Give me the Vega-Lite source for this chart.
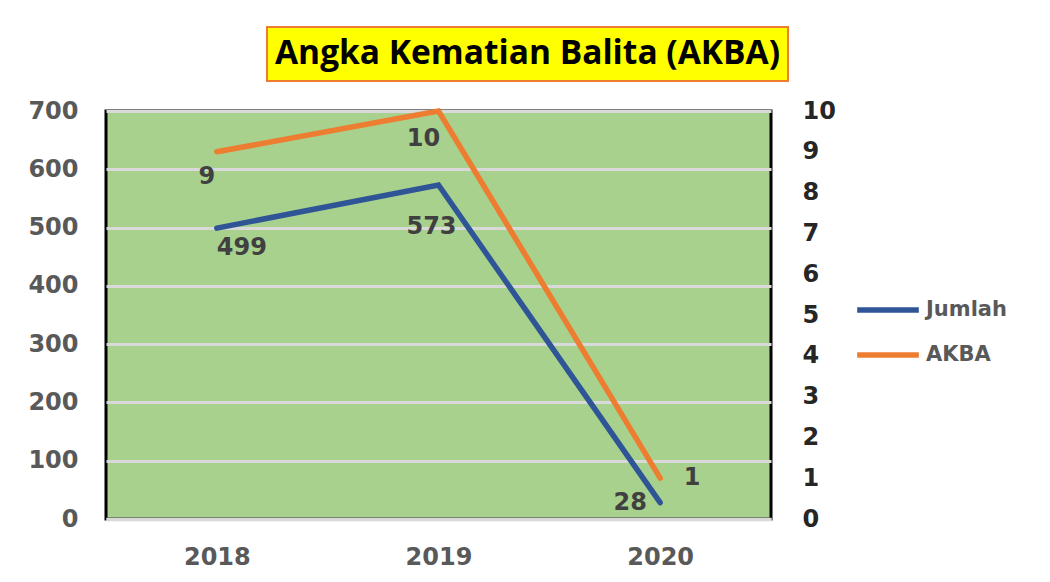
{
  "$schema": "https://vega.github.io/schema/vega-lite/v6.json",
  "background": "white",
  "padding": {"left": 26, "top": 26, "right": 5, "bottom": 5},
  "config": {"font": "DejaVu Sans"},
  "spacing": 15,
  "vconcat": [
    {
      "spacing": 0,
      "hconcat": [
        {
          "width": 160,
          "height": 54,
          "view": {"stroke": null, "fill": null},
          "data": {"values": [{"blank": ""}]},
          "mark": {"type": "text"},
          "encoding": {"text": {"field": "blank"}}
        },
        {
          "width": 521,
          "height": 54,
          "view": {"fill": "#ffff00", "stroke": "#ed7d31", "strokeWidth": 2},
          "data": {"values": [{"title": "Angka Kematian Balita (AKBA)"}]},
          "mark": {"type": "text", "font": "Open Sans", "fontWeight": "bold", "fontSize": 33.5, "color": "black", "align": "center", "baseline": "middle"},
          "encoding": {"text": {"field": "title"}}
        }
      ]
    },
    {
      "width": 665,
      "height": 408,
      "view": {"fill": "#a9d18e", "stroke": "black", "strokeWidth": 3},
      "data": {"values": [
        {"year": "2018", "jumlah": 499, "akba": 9},
        {"year": "2019", "jumlah": 573, "akba": 10},
        {"year": "2020", "jumlah": 28, "akba": 1}
      ]},
      "encoding": {
        "x": {"field": "year", "type": "ordinal", "axis": {"title": null, "zindex": 1, "labelAngle": 0, "domain": true, "domainColor": "#d9d9d9", "domainWidth": 3.5, "ticks": false, "labelPadding": 26, "labelFont": "DejaVu Sans", "labelFontWeight": "bold", "labelFontSize": 24, "labelColor": "#595959"}}
      },
      "layer": [
        {
          "encoding": {
            "y": {"field": "jumlah", "type": "quantitative", "scale": {"domain": [0, 700]}, "axis": {"title": null, "values": [0, 100, 200, 300, 400, 500, 600, 700], "grid": true, "gridColor": "#d9d9d9", "gridWidth": 3, "domain": false, "ticks": false, "labelPadding": 28, "labelFont": "DejaVu Sans", "labelFontWeight": "bold", "labelFontSize": 24, "labelColor": "#595959"}}
          },
          "layer": [
            {
              "mark": {"type": "line", "strokeWidth": 5.5, "strokeCap": "round"},
              "encoding": {"color": {"datum": "Jumlah", "scale": {"domain": ["Jumlah", "AKBA"], "range": ["#2f5597", "#ed7d31"]}, "legend": {"title": null, "orient": "none", "legendX": 748, "legendY": 249, "symbolType": "stroke", "symbolSize": 3800, "symbolStrokeWidth": 5.5, "labelFont": "DejaVu Sans", "labelFontWeight": "bold", "labelFontSize": 21, "labelColor": "#595959", "rowPadding": -17, "labelOffset": 4}}}
            },
            {
              "transform": [{"filter": "datum.year == '2018'"}],
              "mark": {"type": "text", "dx": 25, "dy": 20, "fontWeight": "bold", "fontSize": 24, "color": "#404040", "align": "center", "baseline": "middle"},
              "encoding": {"text": {"field": "jumlah"}}
            },
            {
              "transform": [{"filter": "datum.year == '2019'"}],
              "mark": {"type": "text", "dx": -7, "dy": 42, "fontWeight": "bold", "fontSize": 24, "color": "#404040", "align": "center", "baseline": "middle"},
              "encoding": {"text": {"field": "jumlah"}}
            },
            {
              "transform": [{"filter": "datum.year == '2020'"}],
              "mark": {"type": "text", "dx": -30, "dy": 0, "fontWeight": "bold", "fontSize": 24, "color": "#404040", "align": "center", "baseline": "middle"},
              "encoding": {"text": {"field": "jumlah"}}
            }
          ]
        },
        {
          "encoding": {
            "y": {"field": "akba", "type": "quantitative", "scale": {"domain": [0, 10]}, "axis": {"orient": "right", "title": null, "values": [0, 1, 2, 3, 4, 5, 6, 7, 8, 9, 10], "grid": false, "domain": false, "ticks": false, "labelPadding": 31, "labelFont": "DejaVu Sans", "labelFontWeight": "bold", "labelFontSize": 24, "labelColor": "#262626"}}
          },
          "layer": [
            {
              "mark": {"type": "line", "strokeWidth": 5.5, "strokeCap": "round"},
              "encoding": {"color": {"datum": "AKBA", "scale": {"domain": ["Jumlah", "AKBA"], "range": ["#2f5597", "#ed7d31"]}}}
            },
            {
              "transform": [{"filter": "datum.year == '2018'"}],
              "mark": {"type": "text", "dx": -10, "dy": 25, "fontWeight": "bold", "fontSize": 24, "color": "#404040", "align": "center", "baseline": "middle"},
              "encoding": {"text": {"field": "akba"}}
            },
            {
              "transform": [{"filter": "datum.year == '2019'"}],
              "mark": {"type": "text", "dx": -15, "dy": 28, "fontWeight": "bold", "fontSize": 24, "color": "#404040", "align": "center", "baseline": "middle"},
              "encoding": {"text": {"field": "akba"}}
            },
            {
              "transform": [{"filter": "datum.year == '2020'"}],
              "mark": {"type": "text", "dx": 32, "dy": 0, "fontWeight": "bold", "fontSize": 24, "color": "#404040", "align": "center", "baseline": "middle"},
              "encoding": {"text": {"field": "akba"}}
            }
          ]
        }
      ],
      "resolve": {"scale": {"y": "independent"}}
    }
  ]
}
